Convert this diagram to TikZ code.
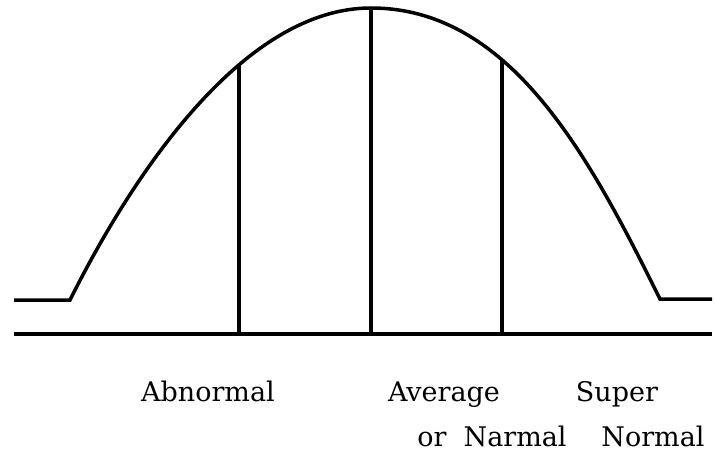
\documentclass[tikz,border=0pt]{standalone}
\usepackage{fontspec}
\setmainfont{DejaVu Serif}
\begin{document}
\begin{tikzpicture}[x=1pt,y=-1pt,
    bellline/.style={line width=3.5pt, line join=miter},
    grouptext/.style={anchor=base, inner sep=0pt, font=\fontsize{27}{32}\selectfont}]

    \useasboundingbox (0,0) rectangle (716,452);

    % Points of the curve
    \coordinate (leftend) at (14,300);
    \coordinate (leftfoot) at (70,300);
    \coordinate (peak) at (371,8); % top of the curve
    \coordinate (rightfoot) at (660,299);
    \coordinate (rightend) at (712,299);

    % Ends of the base line and of the dividers
    \coordinate (baseleft) at (14,334);
    \coordinate (baseright) at (712,334);
    \coordinate (abtop) at (239,64);
    \coordinate (abfoot) at (239,334);
    \coordinate (avfoot) at (371,334);
    \coordinate (sutop) at (502,60);
    \coordinate (sufoot) at (502,334);

    % Draw the curve
    \draw[bellline] (leftend) -- (leftfoot)
        .. controls (130,180) and (241,8) .. (peak)
        .. controls (511,8) and (590,158) .. (rightfoot) -- (rightend);

    % Draw the base line
    \draw[bellline] (baseleft) -- (baseright);

    % Draw the dividers
    \draw[bellline] (abfoot) -- (abtop);
    \draw[bellline] (avfoot) -- (peak);
    \draw[bellline] (sufoot) -- (sutop);

    % Add the group names
    \node[grouptext] (abnormal) at (208,401) {Abnormal};
    \node[grouptext] (average) at (444,401) {Average};
    \node[grouptext] (super) at (617,401) {Super};
    \node[grouptext] (narmal) at (492,446) {or~~Narmal};
    \node[grouptext] (normal) at (653,446) {Normal};

\end{tikzpicture}
\end{document}
